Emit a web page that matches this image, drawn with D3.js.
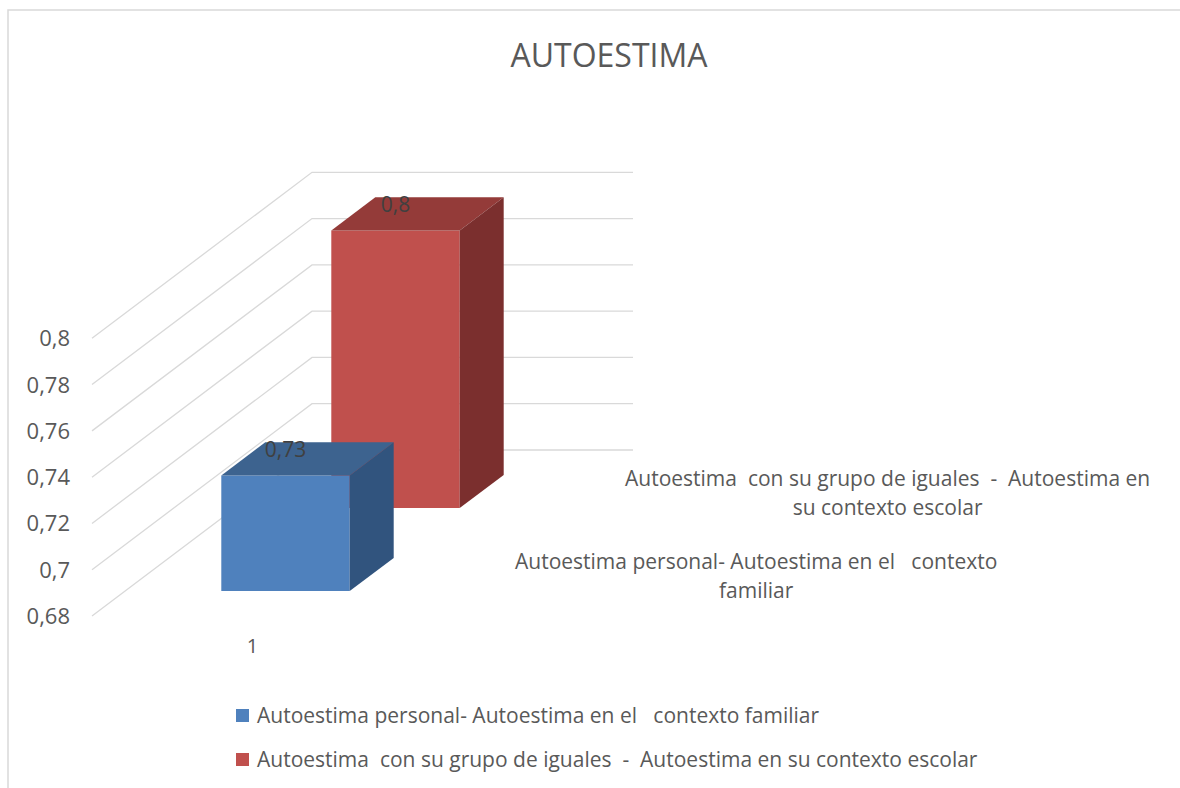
<!DOCTYPE html>
<html>
<head>
<meta charset="utf-8">
<script src="https://cdn.jsdelivr.net/npm/d3@7"></script>
<style>
  body { margin: 0; background: #fff; }
  text { font-family: "Open Sans", sans-serif; fill: #595959; white-space: pre; }
</style>
</head>
<body>
<svg id="chart" width="1180" height="788"></svg>
<script>
// data
var categories = ["1"];
var seriesNames = [
  "Autoestima personal- Autoestima en el   contexto familiar",
  "Autoestima  con su grupo de iguales  -  Autoestima en su contexto escolar"
];
// the series axis labels wrap onto two lines
var seriesLines = [
  ["Autoestima personal- Autoestima en el   contexto", "familiar"],
  ["Autoestima  con su grupo de iguales  -  Autoestima en", "su contexto escolar"]
];
var values = [0.73, 0.8];
var yDomain = [0.68, 0.8];
var yTicks = [0.68, 0.7, 0.72, 0.74, 0.76, 0.78, 0.8];

var colors = {
  front: ["#4f81bd", "#c0504d"],
  top:   ["#3d638f", "#943b39"],
  side:  ["#31547e", "#7b2f2e"]
};

var svg = d3.select("#chart");

// 3d offsets of the back wall
var DX = 220, DY = 166;

var x = d3.scaleBand()
    .domain(categories)
    .range([92, 413])
    .paddingInner(0.6)
    .paddingOuter(0.3);

var y = d3.scaleLinear()
    .domain(yDomain)
    .range([616, 338.3]);

var z = d3.scaleBand()
    .domain(seriesNames)
    .range([0, 1])
    .paddingInner(0.6)
    .paddingOuter(0.3);

var es = d3.formatLocale({decimal: ",", thousands: ".", grouping: [3], currency: ["", "€"]});
var fmt = es.format(".2~f");

function proj(px, v, d) {
  return [px + d * DX, y(v) - d * DY];
}

// chart area border (only top and left are visible)
svg.append("path")
    .attr("d", "M8,790V10H1182")
    .attr("fill", "none")
    .attr("stroke", "#d9d9d9")
    .attr("stroke-width", 1.5);

svg.append("text")
    .attr("x", 609)
    .attr("y", 67)
    .attr("text-anchor", "middle")
    .attr("font-size", 32)
    .text("AUTOESTIMA");

// gridlines: side wall + back wall
var x0 = x.range()[0], x1 = x.range()[1];
svg.append("g")
    .selectAll("path")
    .data(yTicks)
    .enter().append("path")
      .attr("d", function(v) {
        var a = proj(x0, v, 0), b = proj(x0, v, 1), c = proj(x1, v, 1);
        return "M" + a + "L" + b + "L" + c;
      })
      .attr("fill", "none")
      .attr("stroke", "#d9d9d9")
      .attr("stroke-width", 1.3);

svg.append("g")
    .attr("font-size", 22)
    .attr("text-anchor", "end")
    .selectAll("text")
    .data(yTicks)
    .enter().append("text")
      .attr("x", 70)
      .attr("y", function(v) { return y(v); })
      .attr("dy", "0.36em")
      .text(fmt);

// bars, back series first
var bars = seriesNames.map(function(s, i) { return {s: s, i: i, v: values[i], c: categories[0]}; }).reverse();
var base = yDomain[0];

var bar = svg.append("g")
    .selectAll("g")
    .data(bars)
    .enter().append("g");

function poly(pts) { return "M" + pts.map(function(p) { return proj(p[0], p[1], p[2]); }).join("L") + "Z"; }

bar.append("path")
    .attr("fill", function(d) { return colors.front[d.i]; })
    .attr("d", function(d) {
      var xl = x(d.c), xr = xl + x.bandwidth(), d0 = z(d.s);
      return poly([[xl, base, d0], [xr, base, d0], [xr, d.v, d0], [xl, d.v, d0]]);
    });
bar.append("path")
    .attr("fill", function(d) { return colors.top[d.i]; })
    .attr("d", function(d) {
      var xl = x(d.c), xr = xl + x.bandwidth(), d0 = z(d.s), d1 = d0 + z.bandwidth();
      return poly([[xl, d.v, d0], [xr, d.v, d0], [xr, d.v, d1], [xl, d.v, d1]]);
    });
bar.append("path")
    .attr("fill", function(d) { return colors.side[d.i]; })
    .attr("d", function(d) {
      var xr = x(d.c) + x.bandwidth(), d0 = z(d.s), d1 = d0 + z.bandwidth();
      return poly([[xr, base, d0], [xr, base, d1], [xr, d.v, d1], [xr, d.v, d0]]);
    });

bar.append("text")
    .attr("font-size", 21)
    .attr("text-anchor", "middle")
    .style("fill", "#404040")
    .attr("x", function(d) { return proj(x(d.c) + x.bandwidth() / 2, d.v, z(d.s))[0]; })
    .attr("y", function(d) { return proj(0, d.v, z(d.s))[1] - 18; })
    .text(function(d) { return fmt(d.v); });

// category label
svg.append("g")
    .selectAll("text")
    .data(categories)
    .enter().append("text")
      .attr("font-size", 20)
      .attr("text-anchor", "middle")
      .attr("x", function(c) { return x(c) + x.bandwidth() / 2; })
      .attr("y", y(base) + 37)
      .text(function(c) { return c; });

// series (depth) axis labels
seriesNames.forEach(function(s, i) {
  var p = proj(x1, base, z(s) + z.bandwidth() / 2);
  var g = svg.append("g").attr("font-size", 21).attr("text-anchor", "middle");
  var t = g.selectAll("text")
    .data(seriesLines[i])
    .enter().append("text")
      .attr("y", function(d, k) { return k * 29; })
      .text(function(d) { return d; });
  var w = d3.max(t.nodes(), function(n) { return n.getComputedTextLength(); });
  g.attr("transform", "translate(" + (p[0] + 47 + w / 2) + "," + (p[1] - 6) + ")");
});

// legend
var legend = svg.append("g")
    .attr("font-size", 21)
    .selectAll("g")
    .data(seriesNames)
    .enter().append("g")
      .attr("transform", function(d, i) { return "translate(236," + (709 + i * 44) + ")"; });

legend.append("rect")
    .attr("width", 13)
    .attr("height", 13)
    .attr("fill", function(d, i) { return colors.front[i]; });

legend.append("text")
    .attr("x", 21)
    .attr("y", 14)
    .text(function(d) { return d; });
</script>
</body>
</html>
